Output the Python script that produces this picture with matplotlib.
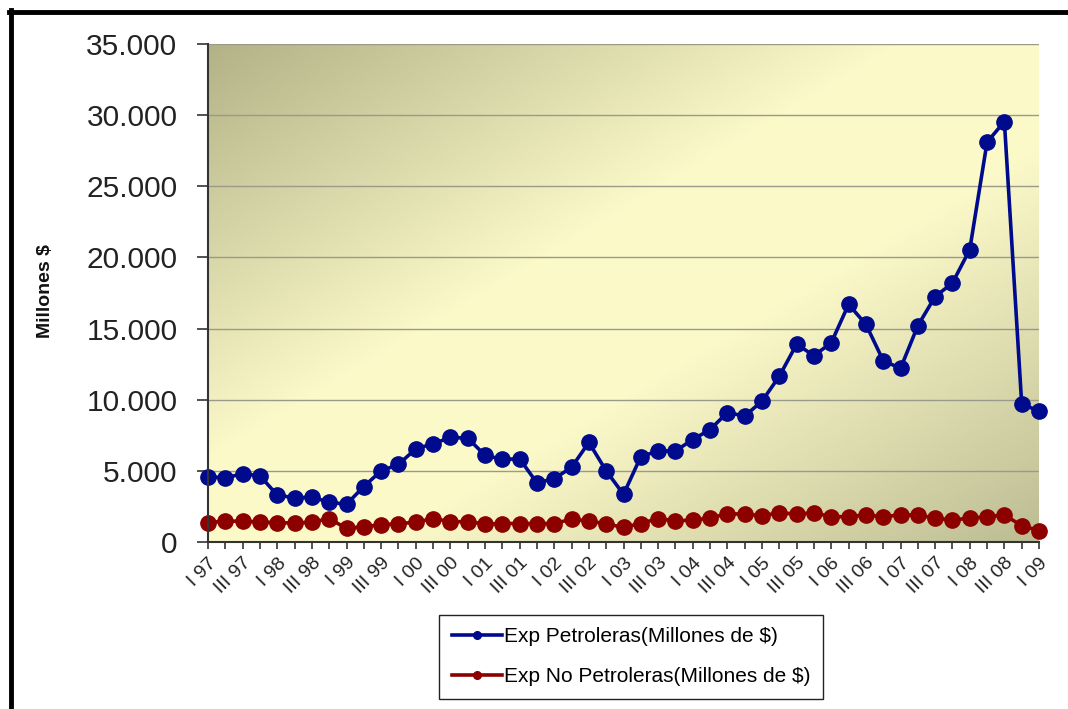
import numpy as np
import matplotlib
matplotlib.use("Agg")
import matplotlib.pyplot as plt
from matplotlib.colors import LinearSegmentedColormap
from matplotlib.lines import Line2D

# ---- data ----
years = ["97", "98", "99", "00", "01", "02", "03", "04", "05", "06", "07", "08", "09"]
quarter_names = ["I", "II", "III", "IV"]
quarters = [f"{q} {y}" for y in years for q in quarter_names][:49]

petroleras = [4600, 4500, 4800, 4650, 3300, 3100, 3150, 2800, 2650, 3900,
              5000, 5450, 6550, 6900, 7350, 7300, 6100, 5800, 5850, 4150,
              4450, 5250, 7000, 5000, 3350, 6000, 6400, 6400, 7200, 7900,
              9100, 8850, 9900, 11650, 13900, 13100, 14000, 16700, 15300, 12750,
              12200, 15200, 17250, 18200, 20550, 28100, 29550, 9700, 9200]
no_petroleras = [1350, 1480, 1450, 1420, 1350, 1350, 1380, 1650, 950, 1080,
                 1200, 1300, 1380, 1650, 1430, 1430, 1270, 1300, 1300, 1300,
                 1300, 1600, 1480, 1270, 1030, 1300, 1650, 1480, 1550, 1670,
                 2000, 1950, 1850, 2050, 1970, 2050, 1780, 1780, 1900, 1780,
                 1900, 1900, 1670, 1550, 1670, 1780, 1900, 1150, 800]
y_ticks = [0, 5000, 10000, 15000, 20000, 25000, 30000, 35000]
y_tick_labels = ["0", "5.000", "10.000", "15.000", "20.000", "25.000", "30.000", "35.000"]
label_pet = "Exp Petroleras(Millones de $)"
label_nopet = "Exp No Petroleras(Millones de $)"
y_title = "Millones $"

plt.rcParams['font.family'] = ['Liberation Sans', 'DejaVu Sans']

W, H = 1068, 709
fig = plt.figure(figsize=(W / 100, H / 100), dpi=100)
fig.patch.set_facecolor("white")

left, right, top, bottom = 208, 1039, 44, 542
ax = fig.add_axes([left / W, 1 - bottom / H, (right - left) / W, (bottom - top) / H])

# gradient background
nx, ny = 300, 200
u = np.linspace(0, 1, nx)[None, :]
v = np.linspace(1, 0, ny)[:, None]
t = (u + (1 - v)) / 2.0
cmap = LinearSegmentedColormap.from_list(
    "bg", [(0.0, (0.70, 0.70, 0.53)), (0.42, (0.99, 0.98, 0.79)),
           (0.6, (0.99, 0.98, 0.79)), (1.0, (0.74, 0.74, 0.58))])
ax.imshow(t, cmap=cmap, extent=[0, 1, 0, 1], transform=ax.transAxes,
          aspect="auto", zorder=0, interpolation="bilinear", vmin=0, vmax=1)

x = np.arange(len(quarters))
ax.plot(x, petroleras, color="#000a8c", lw=2.6, marker="o", ms=11,
        markeredgecolor="#000a8c", label=label_pet, zorder=4, clip_on=False)
ax.plot(x, no_petroleras, color="#8c0000", lw=2.6, marker="o", ms=11,
        markeredgecolor="#8c0000", label=label_nopet, zorder=3, clip_on=False)

ax.set_xlim(0, len(quarters) - 1)
ax.set_ylim(0, 35000)
ax.set_yticks(y_ticks)
ax.set_yticklabels(y_tick_labels, fontsize=21.5, color="#222222")
ax.yaxis.grid(True, color="#9a9a88", lw=1.0, zorder=1)
ax.set_axisbelow(False)

ax.set_xticks(x)
xl = [q if (q.startswith("I ") or q.startswith("III ")) else "" for q in quarters]
ax.set_xticklabels(xl, rotation=45, ha="right", rotation_mode="anchor",
                   fontsize=14, color="#222222")
ax.tick_params(axis="x", length=5, width=1.2, color="#333333", pad=4)
ax.tick_params(axis="y", length=8, width=1.2, color="#333333", pad=14)

for s in ["top", "right"]:
    ax.spines[s].set_visible(False)
for s in ["left", "bottom"]:
    ax.spines[s].set_color("#333333")
    ax.spines[s].set_linewidth(1.5)
    ax.spines[s].set_zorder(5)

fig.text(46 / W, 1 - 291 / H, y_title, rotation=90, ha="center", va="center",
         fontsize=14, fontweight="bold", color="#111111")

leg = ax.legend(loc="upper left", bbox_to_anchor=(439 / W, 1 - 615 / H),
                bbox_transform=fig.transFigure, fontsize=15, frameon=True,
                fancybox=False, edgecolor="#222222", framealpha=1,
                handlelength=2.4, handletextpad=0.1, borderpad=0.6,
                labelspacing=1.0, borderaxespad=0, markerscale=0.5)
leg.get_frame().set_linewidth(1.0)

# black frame (top and left)
fig.add_artist(Line2D([9 / W, 1], [1 - 12 / H, 1 - 12 / H], transform=fig.transFigure,
                      color="black", lw=3.5))
fig.add_artist(Line2D([11 / W, 11 / W], [0, 1 - 10 / H], transform=fig.transFigure,
                      color="black", lw=3.5))

fig.savefig("out.png", dpi=100)
